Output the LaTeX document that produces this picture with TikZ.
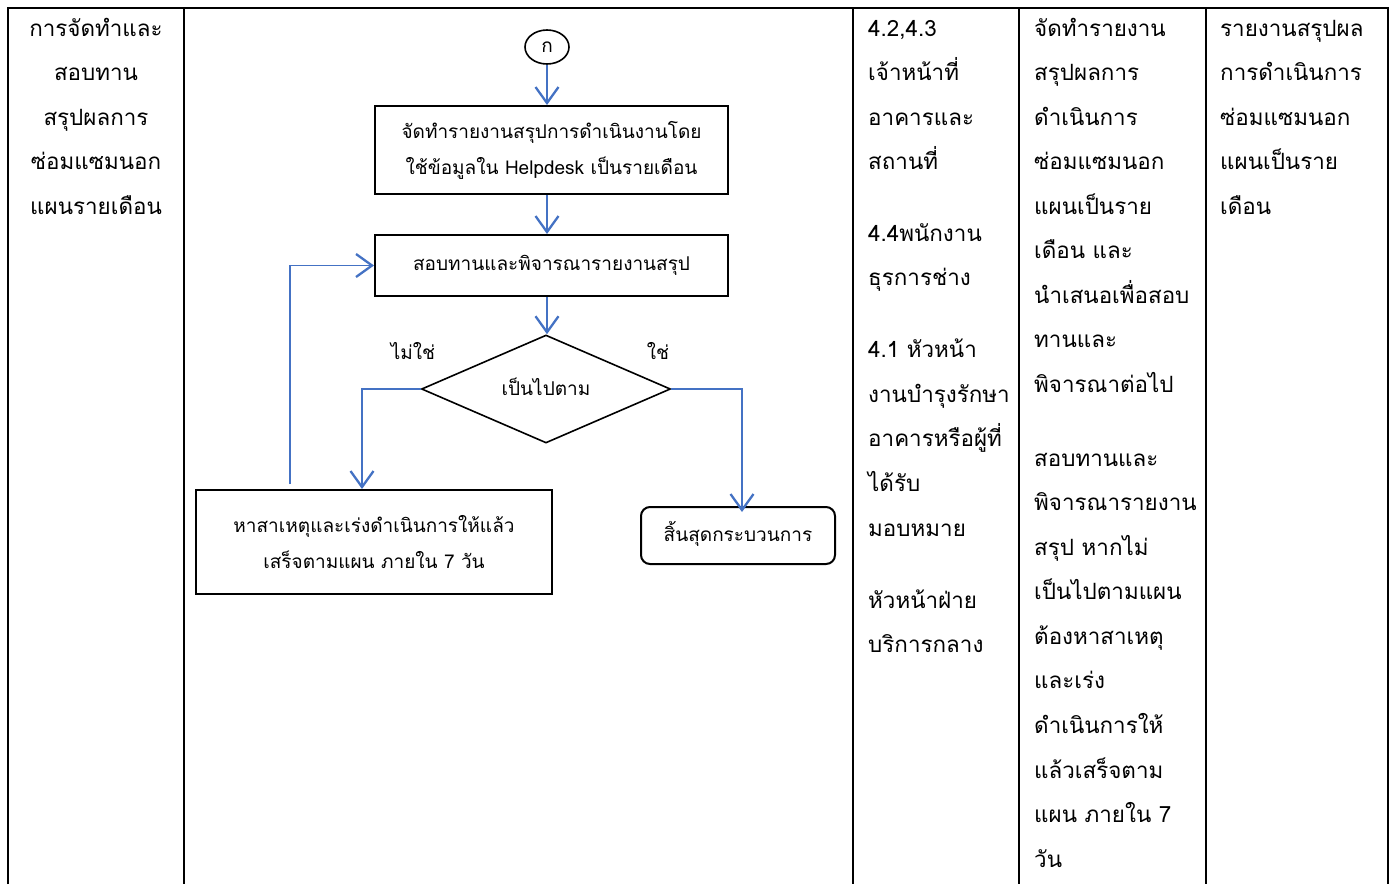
\documentclass[tikz,border=0pt]{standalone}
\usepackage{fontspec}
\newfontfamily\thai[Script=Thai]{Loma}
\usetikzlibrary{arrows.meta,shapes.geometric}
\definecolor{arrblue}{HTML}{4472C4}
\begin{document}
\begin{tikzpicture}[x=1pt,y=-1pt,
  every node/.style={font=\thai\fontsize{22.4}{26}\selectfont, inner sep=0pt},
  tline/.style={line width=2.6pt, black},
  cell/.style={anchor=mid west, yshift=-4pt},
  ccell/.style={anchor=mid, yshift=-4pt},
  ffont/.style={font=\thai\fontsize{19}{23}\selectfont},
  box/.style={draw, line width=2pt, rectangle, ffont},
  barb/.style={-{Straight Barb[length=16pt,width=23pt,line width=2.3pt]}},
  flow/.style={draw=arrblue, line width=2.3pt, barb},
  fline/.style={draw=arrblue, line width=1.8pt, barb}
]
\useasboundingbox (0,0) rectangle (1394,884);
\fill[white] (0,0) rectangle (1394,884);
% table
\draw[tline] (8,884) -- (8,8) -- (1388,8) -- (1388,884);
\foreach \x in {184,853,1019,1206} \draw[tline] (\x,8) -- (\x,884);

% column 1
\node[ccell] (c1a) at (96,30) {การจัดทำและ};
\node[ccell] (c1b) at (96,74) {สอบทาน};
\node[ccell] (c1c) at (96,119) {สรุปผลการ};
\node[ccell] (c1d) at (96,163) {ซ่อมแซมนอก};
\node[ccell] (c1e) at (96,208) {แผนรายเดือน};

% column 3
\foreach \t/\y [count=\i] in {4.2{,}4.3/30, เจ้าหน้าที่/74, อาคารและ/119, สถานที่/163, 4.4พนักงาน/235, ธุรการช่าง/279, 4.1 หัวหน้า/351, งานบำรุงรักษา/396, อาคารหรือผู้ที่/440, ได้รับ/485, มอบหมาย/530, หัวหน้าฝ่าย/602, บริการกลาง/646}
  \node[cell] (c3\i) at (868,\y) {\t};

% column 4
\foreach \t/\y [count=\i] in {จัดทำรายงาน/30, สรุปผลการ/74, ดำเนินการ/119, ซ่อมแซมนอก/163, แผนเป็นราย/208, เดือน และ/252, นำเสนอเพื่อสอบ/297, ทานและ/341, พิจารณาต่อไป/386, สอบทานและ/460, พิจารณารายงาน/504, สรุป หากไม่/549, เป็นไปตามแผน/593, ต้องหาสาเหตุ/638, และเร่ง/682, ดำเนินการให้/727, แล้วเสร็จตาม/772, แผน ภายใน 7/816, วัน/861}
  \node[cell] (c4\i) at (1034,\y) {\t};

% column 5
\foreach \t/\y [count=\i] in {รายงานสรุปผล/30, การดำเนินการ/74, ซ่อมแซมนอก/119, แผนเป็นราย/163, เดือน/208}
  \node[cell] (c5\i) at (1220,\y) {\t};

% flowchart
\node[draw, ellipse, line width=1.6pt, minimum width=44pt, minimum height=34pt, ffont] (con) at (547,47) {\raisebox{-4pt}{ก}};
\node[box, minimum width=353pt, minimum height=88pt, align=center] (b1) at (551.5,150) {จัดทำรายงานสรุปการดำเนินงานโดย\\[13pt]ใช้ข้อมูลใน Helpdesk เป็นรายเดือน};
\node[box, minimum width=353pt, minimum height=61pt] (b2) at (551.5,265.5) {สอบทานและพิจารณารายงานสรุป};
\node[draw, diamond, line width=1.6pt, minimum width=249pt, minimum height=108pt, aspect=2.3, ffont] (d) at (546,389) {\raisebox{5pt}{เป็นไปตาม}};
\node[box, minimum width=356pt, minimum height=104pt, align=center] (b3) at (374,542) {หาสาเหตุและเร่งดำเนินการให้แล้ว\\[13pt]เสร็จตามแผน ภายใน 7 วัน};
\node[box, rounded corners=9pt, minimum width=194pt, minimum height=57pt] (end) at (738,535.5) {\raisebox{8pt}{สิ้นสุดกระบวนการ}};

\node[ffont] (no) at (413,351) {ไม่ใช่};
\node[ffont] (yes) at (658,351) {ใช่};

\coordinate (lp) at (290,484);
\draw[flow] (con.south) -- (con.south |- b1.north);
\draw[flow] (b1.south -| con.south) -- (b2.north -| con.south);
\draw[flow] (b2.south -| con.south) -- (d.north -| con.south);
\draw[flow] (d.west) -| ([xshift=-12pt]b3.north);
\draw[flow] (d.east) -| ([xshift=4pt,yshift=-6pt]end.north);
\draw[fline] (lp) |- (b2.west);
\end{tikzpicture}
\end{document}
